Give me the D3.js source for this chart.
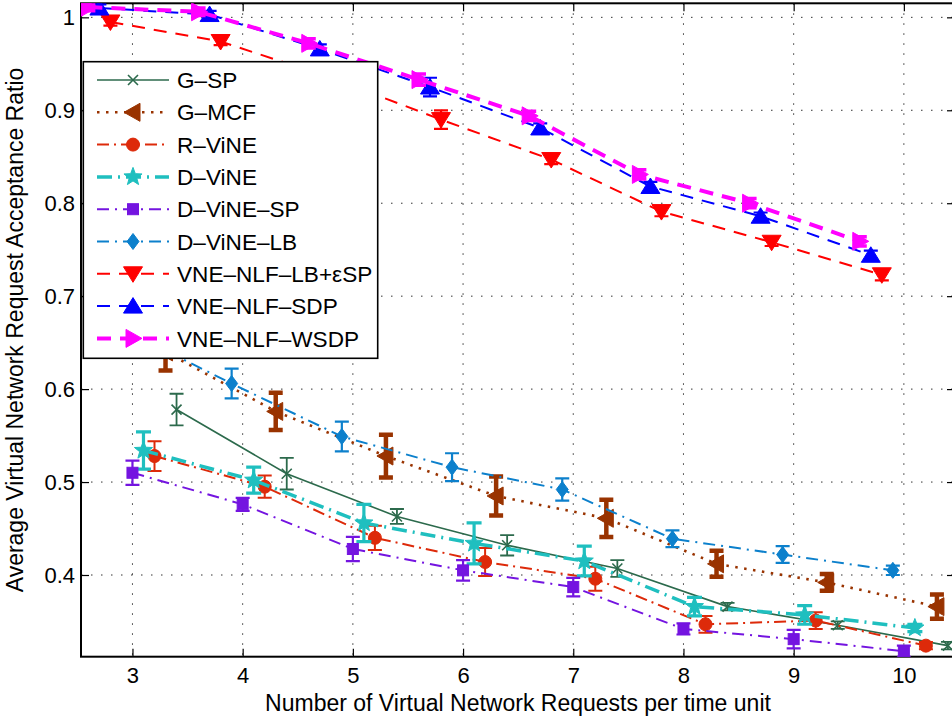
<!DOCTYPE html>
<html><head><meta charset="utf-8">
<script src="https://cdn.jsdelivr.net/npm/d3@7"></script>
<style>
body{margin:0;background:#fff}
text{font-family:"Liberation Sans",Arial,Helvetica,sans-serif;fill:#000}
</style>
</head><body>
<svg id="chart" width="952" height="720"></svg>
<script>
// ---------------- DATA ----------------
const xBase = [3, 4, 5, 6, 7, 8, 9, 10];
const xTickLabels = ["3", "4", "5", "6", "7", "8", "9", "10"];
const yTicks = [0.4, 0.5, 0.6, 0.7, 0.8, 0.9, 1.0];
const yTickLabels = ["0.4", "0.5", "0.6", "0.7", "0.8", "0.9", "1"];

const seriesNames = ["G\u2013SP", "G\u2013MCF", "R\u2013ViNE", "D\u2013ViNE", "D\u2013ViNE\u2013SP",
  "D\u2013ViNE\u2013LB", "VNE\u2013NLF\u2013LB+\u03B5SP", "VNE\u2013NLF\u2013SDP", "VNE\u2013NLF\u2013WSDP"];
// horizontal shift of each series around the base x value
const xShift = [0.4, 0.3, 0.2, 0.1, 0.0, -0.1, -0.2, -0.3, -0.4];

const gSP      = [0.578, 0.509, 0.463, 0.432, 0.407, 0.366, 0.346, 0.324];
const gSPErr   = [0.017, 0.017, 0.008, 0.011, 0.009, 0.004, 0.004, 0.004];
const gMCF     = [0.640, 0.576, 0.528, 0.485, 0.461, 0.412, 0.392, 0.366];
const gMCFErr  = [0.020, 0.020, 0.023, 0.021, 0.020, 0.014, 0.009, 0.013];
const rViNE    = [0.528, 0.495, 0.440, 0.414, 0.396, 0.347, 0.351, 0.324];
const rViNEErr = [0.016, 0.012, 0.013, 0.015, 0.013, 0.009, 0.009, 0.004];
const dViNE    = [0.534, 0.502, 0.456, 0.434, 0.415, 0.366, 0.357, 0.343];
const dViNEErr = [0.020, 0.014, 0.020, 0.022, 0.016, 0.010, 0.010, 0.004];
const dViNESP    = [0.510, 0.476, 0.428, 0.405, 0.387, 0.342, 0.331, 0.318];
const dViNESPErr = [0.013, 0.007, 0.013, 0.011, 0.010, 0.006, 0.010, 0.006];
const dViNELB    = [0.665, 0.606, 0.549, 0.516, 0.492, 0.439, 0.422, 0.405];
const dViNELBErr = [0.016, 0.016, 0.016, 0.015, 0.012, 0.009, 0.009, 0.005];
const nlfLBSP    = [0.995, 0.974, 0.935, 0.890, 0.847, 0.791, 0.758, 0.723];
const nlfLBSPErr = [0.004, 0.004, 0.005, 0.010, 0.005, 0.005, 0.004, 0.006];
const nlfSDP     = [1.010, 1.003, 0.966, 0.925, 0.881, 0.818, 0.786, 0.744];
const nlfSDPErr  = [0.004, 0.004, 0.005, 0.010, 0.005, 0.005, 0.004, 0.005];
const nlfWSDP    = [1.011, 1.006, 0.972, 0.933, 0.894, 0.831, 0.800, 0.759];
const nlfWSDPErr = [0.004, 0.004, 0.005, 0.006, 0.005, 0.005, 0.005, 0.005];

const seriesValues = [gSP, gMCF, rViNE, dViNE, dViNESP, dViNELB, nlfLBSP, nlfSDP, nlfWSDP];
const seriesErrors = [gSPErr, gMCFErr, rViNEErr, dViNEErr, dViNESPErr, dViNELBErr, nlfLBSPErr, nlfSDPErr, nlfWSDPErr];

const xTitle = "Number of Virtual Network Requests per time unit";
const yTitle = "Average Virtual Network Request Acceptance Ratio";

// ---------------- STYLES ----------------
const styles = [
  {color:"#2c6a4c", width:1.6, dash:null,          marker:"x", errW:1.8, capW:14},
  {color:"#993300", width:2.6, dash:"2.5,6.5",     marker:"<", errW:4.5, capW:14},
  {color:"#dd2a0a", width:2,   dash:"12,5,2,5",    marker:"o", errW:2,   capW:14},
  {color:"#1fbfbf", width:3.5, dash:"15,6,2,6",    marker:"*", errW:3.2, capW:15},
  {color:"#7414e0", width:2,   dash:"12,6,2,6",    marker:"s", errW:2.2, capW:14},
  {color:"#0c80cc", width:2,   dash:"12,6,2,6",    marker:"d", errW:2.2, capW:14},
  {color:"#ff0000", width:2,   dash:"13,9",        marker:"v", errW:2.2, capW:14},
  {color:"#0000ff", width:2,   dash:"13,9",        marker:"^", errW:2.2, capW:14},
  {color:"#ff00ff", width:4,   dash:"14,9",        marker:">", errW:3.5, capW:14}
];

// ---------------- LAYOUT ----------------
const svg = d3.select("#chart");
const L = 81, R = 955, T = 3.3, B = 656.7;
const x = d3.scaleLinear().domain([2.533, 10.464]).range([L, R]);
const y = d3.scaleLinear().domain([0.3121, 1.0151]).range([B, T]);

svg.append("defs").append("clipPath").attr("id", "clip")
  .append("rect").attr("x", L).attr("y", T).attr("width", R - L).attr("height", B - T);

// grid
const grid = svg.append("g");
grid.selectAll("line.gx").data(xBase).enter().append("line")
  .attr("x1", d => x(d)).attr("x2", d => x(d)).attr("y1", T).attr("y2", B)
  .attr("stroke", "#333").attr("stroke-width", 1).attr("stroke-dasharray", "1.5,8.5");
grid.selectAll("line.gy").data(yTicks).enter().append("line")
  .attr("y1", d => y(d)).attr("y2", d => y(d)).attr("x1", L).attr("x2", R)
  .attr("stroke", "#333").attr("stroke-width", 1).attr("stroke-dasharray", "1.5,8.5");

// axes
const fs = 22;
const ax = svg.append("g").attr("transform", `translate(0,${B})`)
  .call(d3.axisBottom(x).tickValues(xBase).tickFormat((d, i) => xTickLabels[i])
    .tickSizeInner(-8).tickSizeOuter(0).tickPadding(11));
const ay = svg.append("g").attr("transform", `translate(${L},0)`)
  .call(d3.axisLeft(y).tickValues(yTicks).tickFormat((d, i) => yTickLabels[i])
    .tickSizeInner(-8).tickSizeOuter(0).tickPadding(6));
const axTop = svg.append("g").attr("transform", `translate(0,${T})`)
  .call(d3.axisTop(x).tickValues(xBase).tickFormat("").tickSizeInner(-8).tickSizeOuter(0));
const ayR = svg.append("g").attr("transform", `translate(${R},0)`)
  .call(d3.axisRight(y).tickValues(yTicks).tickFormat("").tickSizeInner(-8).tickSizeOuter(0));
[ax, ay, axTop, ayR].forEach(g => {
  g.select(".domain").remove();
  g.selectAll("line").attr("stroke", "#000").attr("stroke-width", 1.2);
  g.selectAll("text").attr("font-size", fs).attr("font-family", "Liberation Sans, Arial, sans-serif").attr("fill", "#000");
});
svg.append("rect").attr("x", L).attr("y", T).attr("width", R - L).attr("height", B - T)
  .attr("fill", "none").attr("stroke", "#000").attr("stroke-width", 2);

// titles
svg.append("text").attr("x", (L + R) / 2).attr("y", 711).attr("text-anchor", "middle")
  .attr("font-size", 23).text(xTitle);
svg.append("text").attr("transform", `translate(23,${(T + B) / 2}) rotate(-90)`)
  .attr("text-anchor", "middle").attr("font-size", 23).text(yTitle);

// marker drawing
function drawMarker(g, type, cx, cy, color) {
  const m = g.append("g").attr("transform", `translate(${cx},${cy})`);
  if (type === "x") {
    m.append("path").attr("d", "M-5,-5L5,5M-5,5L5,-5").attr("stroke", color).attr("stroke-width", 1.6).attr("fill", "none");
  } else if (type === "<") {
    m.append("path").attr("d", "M-9,0L7,-9L7,9Z").attr("fill", color).attr("stroke", color).attr("stroke-width", 1);
  } else if (type === ">") {
    m.append("path").attr("d", "M9,0L-7,-9L-7,9Z").attr("fill", color).attr("stroke", color).attr("stroke-width", 1);
  } else if (type === "v") {
    m.append("path").attr("d", "M-9.5,-7L9.5,-7L0,8.5Z").attr("fill", color).attr("stroke", color).attr("stroke-width", 1);
  } else if (type === "^") {
    m.append("path").attr("d", "M-9.5,7L9.5,7L0,-8.5Z").attr("fill", color).attr("stroke", color).attr("stroke-width", 1);
  } else if (type === "o") {
    m.append("circle").attr("r", 6.5).attr("fill", color).attr("stroke", color);
  } else if (type === "s") {
    m.append("rect").attr("x", -5.5).attr("y", -5.5).attr("width", 11).attr("height", 11).attr("fill", color).attr("stroke", color);
  } else if (type === "d") {
    m.append("path").attr("d", "M0,-8L6,0L0,8L-6,0Z").attr("fill", color).attr("stroke", color);
  } else if (type === "*") {
    const pts = [];
    for (let k = 0; k < 10; k++) {
      const a = -Math.PI / 2 + k * Math.PI / 5;
      const r = k % 2 === 0 ? 9.5 : 4;
      pts.push([r * Math.cos(a), r * Math.sin(a)]);
    }
    m.append("path").attr("d", "M" + pts.map(p => p.join(",")).join("L") + "Z").attr("fill", color).attr("stroke", color);
  }
}

// series
const plot = svg.append("g").attr("clip-path", "url(#clip)");
seriesNames.forEach((name, si) => {
  const st = styles[si];
  const pts = xBase.map((xb, i) => ({x: xb + xShift[si], v: seriesValues[si][i], e: seriesErrors[si][i]}));
  const g = plot.append("g");
  // error bars
  pts.forEach(p => {
    const px = x(p.x), y1 = y(p.v + p.e), y2 = y(p.v - p.e);
    g.append("path")
      .attr("d", `M${px},${y1}L${px},${y2}M${px - st.capW / 2},${y1}L${px + st.capW / 2},${y1}M${px - st.capW / 2},${y2}L${px + st.capW / 2},${y2}`)
      .attr("stroke", st.color).attr("stroke-width", st.errW).attr("fill", "none");
  });
  // line
  const line = d3.line().x(p => x(p.x)).y(p => y(p.v));
  g.append("path").datum(pts).attr("d", line).attr("fill", "none")
    .attr("stroke", st.color).attr("stroke-width", st.width)
    .attr("stroke-dasharray", st.dash);
  // markers
  pts.forEach(p => drawMarker(g, st.marker, x(p.x), y(p.v), st.color));
});

// legend
const lg = svg.append("g");
const LX = 83.3, LY = 61.7, LW = 294.4, LH = 296.6;
lg.append("rect").attr("x", LX).attr("y", LY).attr("width", LW).attr("height", LH)
  .attr("fill", "#fff").attr("stroke", "#000").attr("stroke-width", 1.6);
seriesNames.forEach((name, si) => {
  const st = styles[si];
  const cy = 80 + si * 32.3;
  lg.append("line").attr("x1", 97).attr("x2", 169).attr("y1", cy).attr("y2", cy)
    .attr("stroke", st.color).attr("stroke-width", st.width).attr("stroke-dasharray", st.dash);
  drawMarker(lg, st.marker, 133, cy, st.color);
  lg.append("text").attr("x", 177).attr("y", cy).attr("dy", "0.36em")
    .attr("font-size", 22.6).text(name);
});
</script>
</body></html>
